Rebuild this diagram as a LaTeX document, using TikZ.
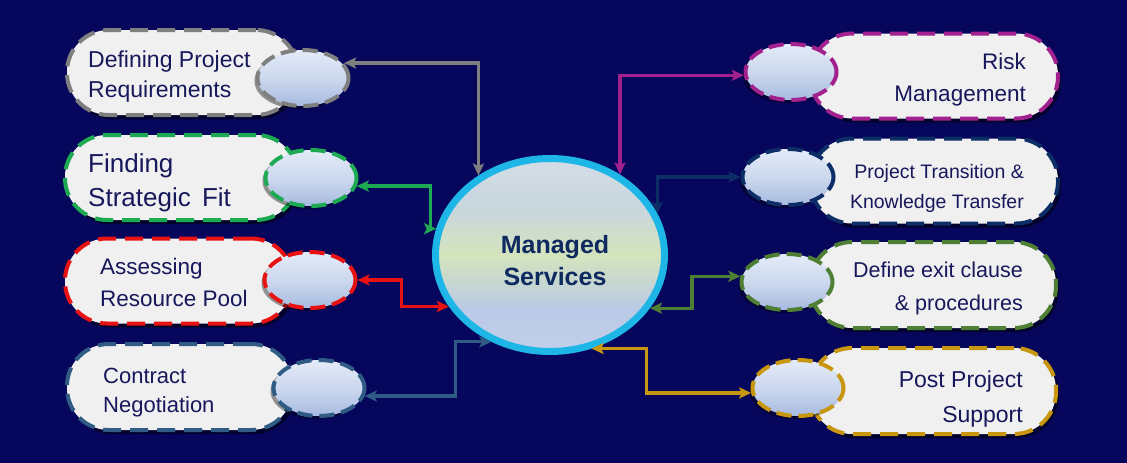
\documentclass[tikz,border=0pt]{standalone}
\usepackage{fontspec}
\setmainfont{Liberation Sans}
\usetikzlibrary{arrows.meta,shadows,shapes.geometric}
\definecolor{bg}{HTML}{06065C}
\definecolor{pillfill}{HTML}{F0F0F0}
\definecolor{txt}{HTML}{17175C}
\definecolor{ctxt}{HTML}{0E2A60}
\definecolor{cgray}{HTML}{7F7F7F}
\definecolor{cgreen}{HTML}{1DAA52}
\definecolor{cred}{HTML}{E81212}
\definecolor{csteel}{HTML}{2F5B85}
\definecolor{cmag}{HTML}{A3218E}
\definecolor{cnavy}{HTML}{0D2D66}
\definecolor{colive}{HTML}{4F7F35}
\definecolor{cgold}{HTML}{C9970F}
\definecolor{ccyan}{HTML}{1DB6E6}
\definecolor{eltop}{HTML}{E4EBF8}
\definecolor{elmid}{HTML}{CCD8EE}
\definecolor{elbot}{HTML}{A7BAE0}
\definecolor{mstop}{HTML}{D4DDE6}
\definecolor{msup}{HTML}{C8D6DE}
\definecolor{msmid}{HTML}{D4E4BC}
\definecolor{mslow}{HTML}{BACAE6}
\definecolor{msbot}{HTML}{C2CEEA}
\pgfdeclareverticalshading{mshade}{100bp}{color(0bp)=(msbot); color(25bp)=(msbot); color(36bp)=(mslow); color(50bp)=(msmid); color(62bp)=(msup); color(75bp)=(mstop); color(100bp)=(mstop)}
\tikzset{
  pill/.style={rectangle, rounded corners=42pt, fill=pillfill, line width=4pt,
    dash pattern=on 18pt off 9pt, inner sep=0pt, minimum height=85pt,
    drop shadow={shadow xshift=3pt, shadow yshift=-4pt, opacity=.5, fill=black}},
  sel/.style={ellipse, line width=4pt, dash pattern=on 15pt off 7pt, inner sep=0pt,
    top color=eltop, bottom color=elbot, middle color=elmid,
    minimum width=91pt, minimum height=56pt,
    drop shadow={shadow xshift=-3pt, shadow yshift=-3pt, opacity=.4, fill=black}},
  ltxt/.style={anchor=base west, align=left, text=txt, inner sep=0pt},
  rtxt/.style={anchor=base east, align=right, text=txt, inner sep=0pt},
  conn/.style={line width=3.2pt, {Stealth[length=12pt,width=11pt,inset=2.5pt]}-{Stealth[length=12pt,width=11pt,inset=2.5pt]}}
}
\begin{document}
\begin{tikzpicture}[x=1pt,y=-1pt]
\useasboundingbox (0,0) rectangle (1127,463);
\fill[bg] (0,0) rectangle (1127,463);

% left pills
\node[pill, draw=cgray,  minimum width=231pt] (L1) at (182.5,72.5) {};
\node[pill, draw=cgreen, minimum width=233pt] (L2) at (181.5,177.5) {};
\node[pill, draw=cred,   minimum width=228pt] (L3) at (179,281) {};
\node[pill, draw=csteel, minimum width=226pt, minimum height=86pt] (L4) at (180,387) {};
% right pills
\node[pill, draw=cmag,   minimum width=248pt] (R1) at (934,76) {};
\node[pill, draw=cnavy,  minimum width=248pt] (R2) at (934,181) {};
\node[pill, draw=colive, minimum width=246pt, minimum height=86pt] (R3) at (933,285) {};
\node[pill, draw=cgold,  minimum width=246pt, minimum height=86pt] (R4) at (933,391) {};

% texts (base anchor = baseline of last line)
\node[ltxt, font=\fontsize{23}{30}\selectfont] (T1) at (88,97.5) {Defining Project\\Requirements};
\node[ltxt, font=\fontsize{26}{34}\selectfont] (T2) at (88,206) {Finding\\Strategic\hspace{4pt} Fit};
\node[ltxt, font=\fontsize{22.5}{32}\selectfont] (T3) at (100,306) {Assessing\\Resource Pool};
\node[ltxt, font=\fontsize{22}{29}\selectfont] (T4) at (103,412) {Contract\\Negotiation};
\node[rtxt, font=\fontsize{22.5}{32}\selectfont] (T5) at (1026,101) {Risk\\Management};
\node[rtxt, font=\fontsize{19.5}{30}\selectfont] (T6) at (1024,208) {Project Transition \&\\Knowledge Transfer};
\node[rtxt, font=\fontsize{21.5}{33}\selectfont] (T7) at (1023,310) {Define exit clause\\\& procedures};
\node[rtxt, font=\fontsize{23}{35}\selectfont] (T8) at (1023,422) {Post Project\\Support};

% small ellipses
\node[sel, draw=cgray] (L1e) at (303,78) {};
\node[sel, draw=cgreen] (L2e) at (311,178) {};
\node[sel, draw=cred] (L3e) at (310,280) {};
\node[sel, draw=csteel] (L4e) at (319,388) {};
\node[sel, draw=cmag] (R1e) at (791,72) {};
\node[sel, draw=cnavy] (R2e) at (788,177) {};
\node[sel, draw=colive] (R3e) at (787,282) {};
\node[sel, draw=cgold] (R4e) at (798,388) {};

% center
\node[ellipse, draw=ccyan, line width=7pt, shading=mshade, minimum width=229pt, minimum height=193pt, inner sep=0pt] (C) at (550,255) {};
\node[anchor=base, align=center, text=ctxt, inner sep=0pt, font=\fontsize{25}{32}\selectfont\bfseries] (CT) at (555,285) {Managed\\Services};

% connectors
\draw[conn, cgray] (L1e.20) -| (C.132);
\draw[conn, cgreen] (L2e.-10) -| ([xshift=-6pt]C.167) -- (C.167);
\draw[conn, cred] (L3e.east) -| ([xshift=-47pt]C.207) -- (C.207);
\draw[conn, csteel] (L4e.-10) -| ([xshift=-36pt]C.236) -- (C.236);
\draw[conn, cmag] (C.49) |- (R1e.184);
\draw[conn, cnavy] (C.21) |- (R2e.west);
\draw[conn, colive] (C.-28) -- ([xshift=42pt]C.-28) |- (R3e.173);
\draw[conn, cgold] (C.-66) -- ([xshift=55pt]C.-66) |- (R4e.186);
\end{tikzpicture}
\end{document}
